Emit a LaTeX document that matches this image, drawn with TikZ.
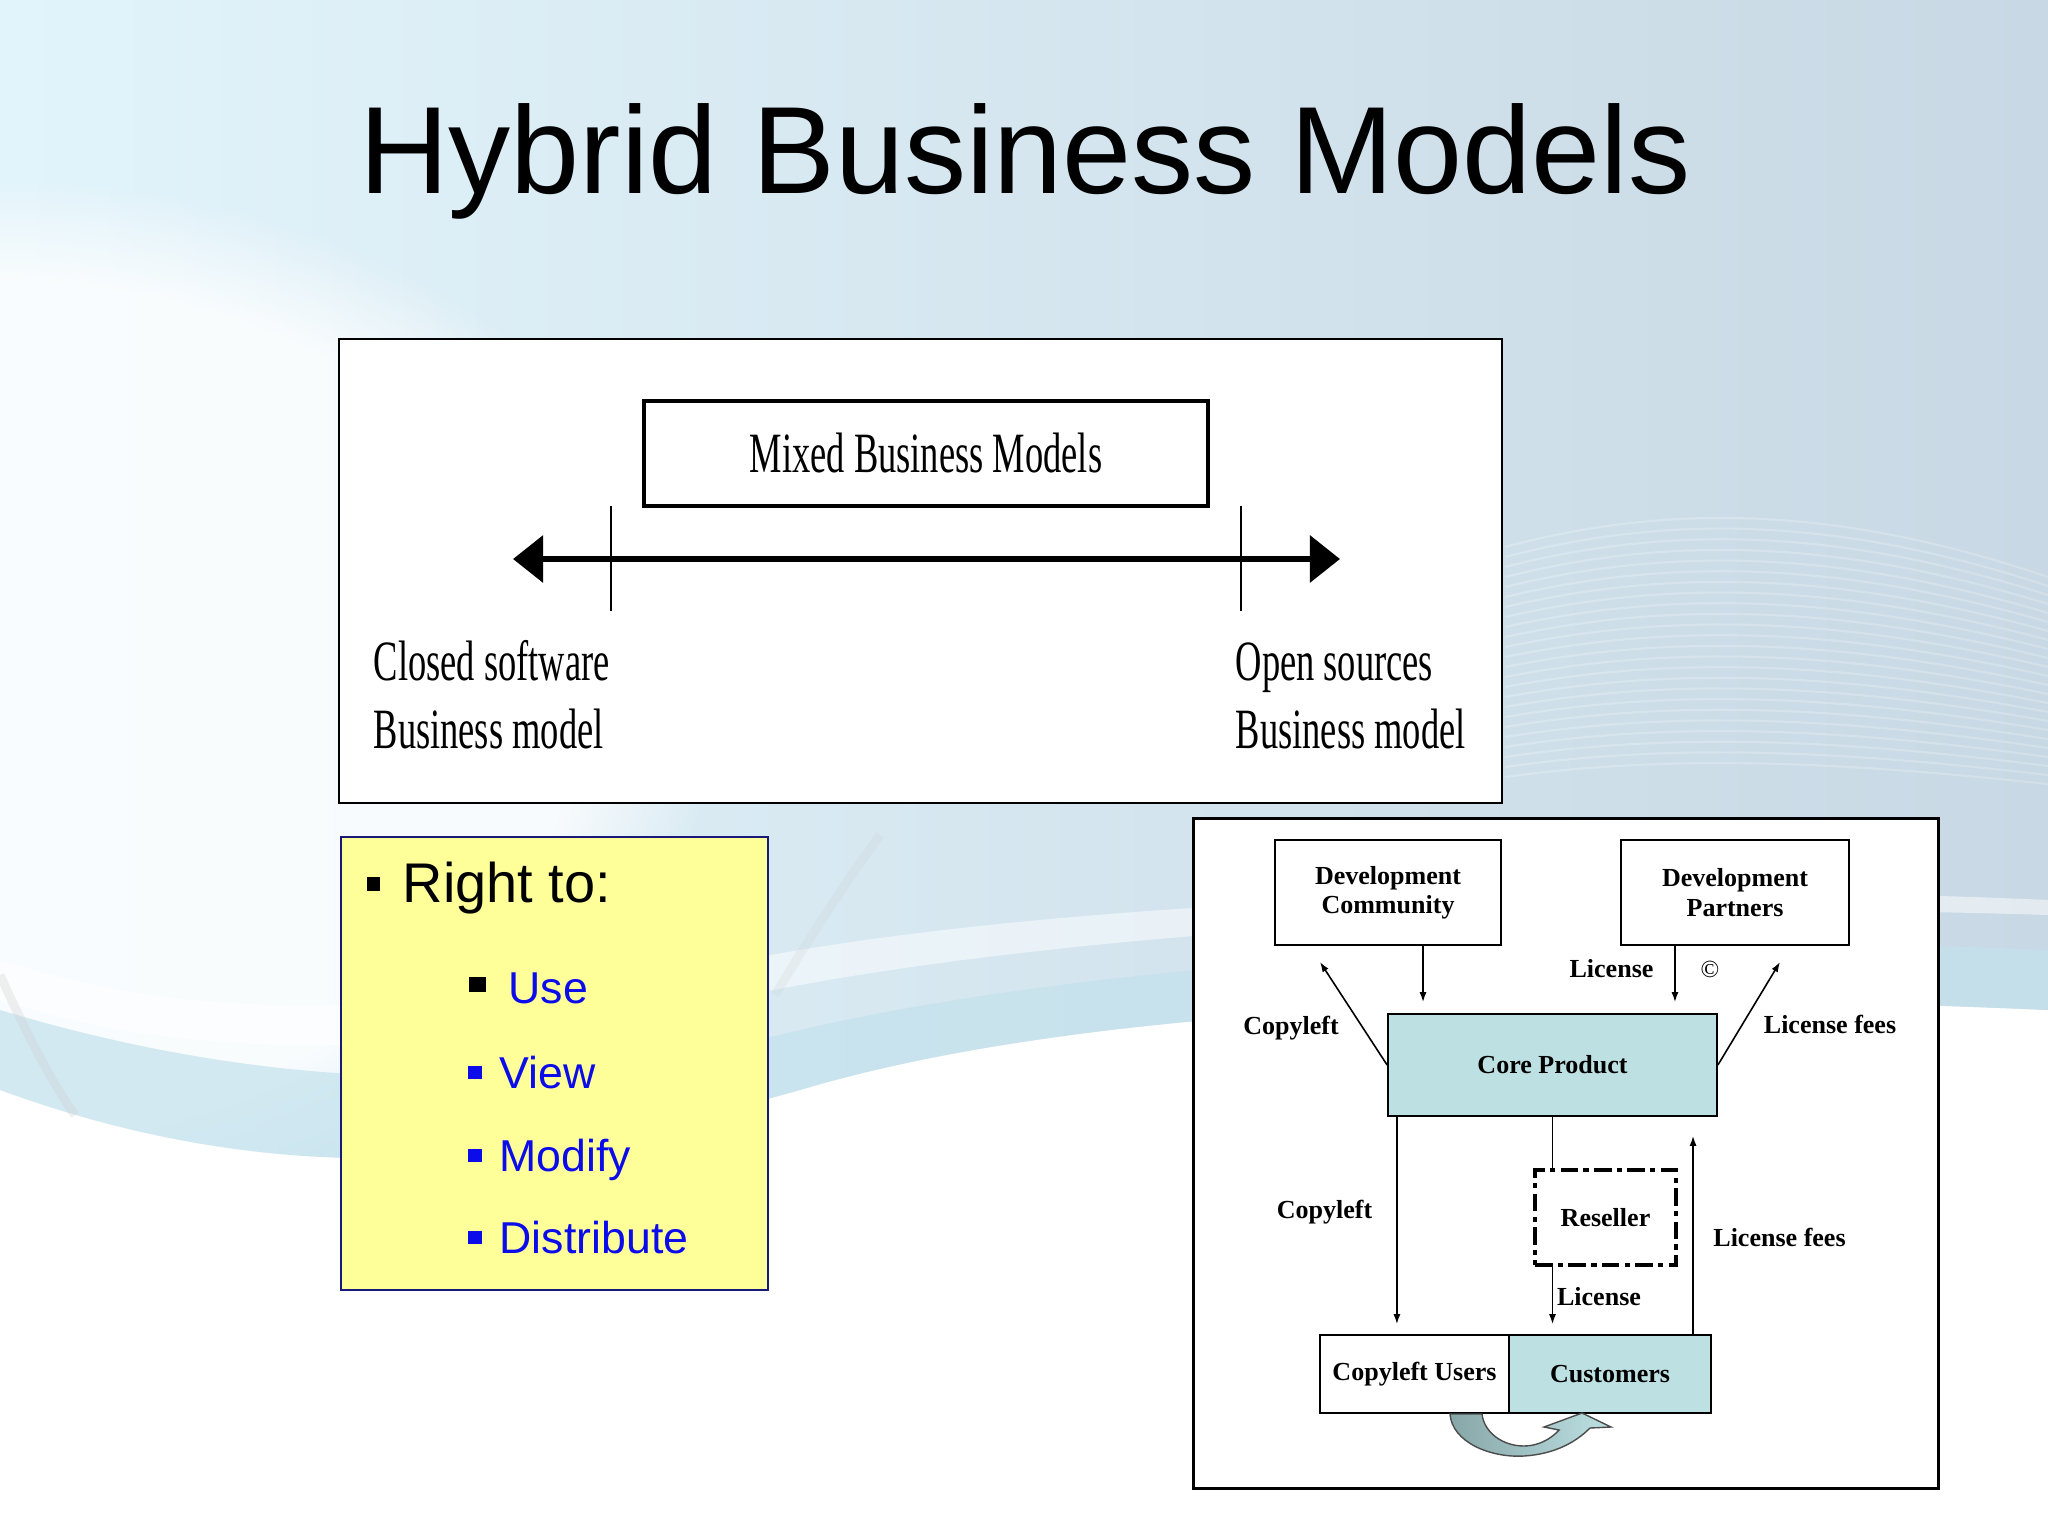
\documentclass[tikz,border=0pt]{standalone}
\usepackage{fontspec}
\setmainfont{Liberation Serif}
\newfontfamily\arialfont{Liberation Sans}
\newfontfamily\narrowfont[FakeStretch=0.64]{Liberation Serif}
\usetikzlibrary{arrows.meta,fadings}

\definecolor{bgleft}{RGB}{226,244,251}
\definecolor{bgright}{RGB}{200,216,228}
\definecolor{bandblue}{RGB}{196,226,237}
\definecolor{notefill}{RGB}{255,255,153}
\definecolor{noteline}{RGB}{25,25,120}
\definecolor{itemblue}{RGB}{12,12,235}
\definecolor{coreteal}{RGB}{189,225,227}
\definecolor{darkteal}{RGB}{135,166,168}

\newcommand{\diagfont}{\bfseries\fontsize{7.4}{8.3}\selectfont}

\begin{document}
\begin{tikzpicture}[x=0.01cm,y=-0.01cm,
    box/.style={draw,line width=0.45pt,fill=white,inner sep=0pt,align=center,font=\diagfont},
    lbl/.style={inner sep=0pt,font=\diagfont},
    sideline/.style={anchor=base west,inner sep=0pt,font=\narrowfont\fontsize{16.2}{19}\selectfont},
    item/.style={anchor=base west,inner sep=0pt,text=itemblue,font=\arialfont\fontsize{12.7}{15}\selectfont},
    flow/.style={line width=0.45pt,-{Latex[length=0.1cm,width=0.07cm]}}]

    % background
    \useasboundingbox (0,0) rectangle (2048,1536);
    \fill[white] (0,0) rectangle (2048,1536);
    \shade[left color=bgleft, right color=bgright]
        (0,0) -- (2048,0) -- (2048,1010) .. controls (1600,990) and (1100,1000) .. (800,1090)
        .. controls (550,1160) and (300,1200) .. (0,1090) -- cycle;
    \fill[white, fill opacity=0.8, path fading=circle with fuzzy edge 20 percent] (0,700) ellipse (720 and 520);
    \fill[bandblue, opacity=0.7]
        (0,1010) .. controls (300,1100) and (550,1090) .. (800,1030) .. controls (1100,960) and (1600,930) .. (2048,950)
        -- (2048,1010) .. controls (1600,990) and (1100,1000) .. (800,1090)
        .. controls (550,1160) and (300,1200) .. (0,1090) -- cycle;
    \fill[white, opacity=0.5]
        (0,960) .. controls (250,1040) and (500,1000) .. (800,950) .. controls (1100,900) and (1600,880) .. (2048,900)
        -- (2048,915) .. controls (1600,900) and (1100,930) .. (800,985)
        .. controls (500,1040) and (250,1080) .. (0,1000) -- cycle;
    \draw[black!20, opacity=0.3, line width=2.5pt] (0,975) .. controls (25,1030) and (50,1080) .. (75,1115);
    \draw[black!20, opacity=0.2, line width=2.5pt] (880,835) .. controls (840,890) and (805,945) .. (775,995);
    \foreach \k in {0,...,23}
        \draw[white, opacity=0.22, line width=0.6pt] (1505,547+\k*10) .. controls (1680,500+\k*11) and (1850,510+\k*11) .. (2048,577+\k*9);

    \node[font=\arialfont\fontsize{35.3}{40}\selectfont, anchor=base, inner sep=0pt] (title) at (1025,193) {Hybrid Business Models};

    % spectrum panel
    \node[draw, fill=white, line width=0.6pt, minimum width=11.63cm, minimum height=4.64cm, inner sep=0pt] (spectrum) at (920.5,571) {};
    \node[draw, line width=1.15pt, minimum width=5.64cm, minimum height=1.05cm, inner sep=0pt,
          font=\narrowfont\fontsize{16.2}{19}\selectfont] (mixed) at (926,453.5) {Mixed Business Models};
    \coordinate (closedend) at (513,559);
    \coordinate (openend) at (1340,559);
    \draw[line width=1.7pt, {Triangle[length=0.3cm,width=0.46cm]}-{Triangle[length=0.3cm,width=0.46cm]}] (closedend) -- (openend);
    \foreach \x in {611,1241}
        \draw[line width=0.5pt] (\x,506) -- (\x,611);
    \node[sideline] (closedA) at (373,680) {Closed software};
    \node[sideline] (closedB) at (373,748) {Business model};
    \node[sideline] (openA) at (1235,680) {Open sources};
    \node[sideline] (openB) at (1235,748) {Business model};

    % rights note
    \node[draw=noteline, fill=notefill, line width=0.6pt, minimum width=4.27cm, minimum height=4.53cm, inner sep=0pt] (rights) at (554.5,1063.5) {};
    \fill (367,877) rectangle (380,891);
    \node[anchor=base west, inner sep=0pt, font=\arialfont\fontsize{15.9}{18}\selectfont] (rightto) at (402,902) {Right to:};
    \fill (469,977) rectangle (486,992);
    \node[item] (use) at (508,1003) {Use};
    \foreach \y/\name/\txt in {1088/view/View, 1171/modify/Modify, 1253/distribute/Distribute} {
        \fill[itemblue] (468,\y-22) rectangle (482,\y-9);
        \node[item] (\name) at (499,\y) {\txt};
    }

    % model diagram
    \node[draw, fill=white, line width=0.8pt, minimum width=7.44cm, minimum height=6.69cm, inner sep=0pt] (model) at (1566,1153.5) {};
    \node[box, minimum width=2.26cm, minimum height=1.05cm] (devcomm) at (1388,892.5) {Development\\Community};
    \node[box, minimum width=2.28cm, minimum height=1.05cm] (devpart) at (1735,892.5) {Development\\Partners};
    \node[box, fill=coreteal, minimum width=3.29cm, minimum height=1.02cm] (core) at (1552.5,1065) {Core Product};
    \node[box, line width=0.9pt, dash pattern=on 5pt off 1.5pt on 1.5pt off 1.5pt, minimum width=1.41cm, minimum height=0.95cm] (reseller) at (1605.5,1217.5) {Reseller};
    \node[box, minimum width=1.89cm, minimum height=0.78cm] (copyusers) at (1414.5,1374) {Copyleft Users};
    \node[box, fill=coreteal, minimum width=2.02cm, minimum height=0.78cm] (customers) at (1610,1374) {Customers};

    \coordinate (commtip) at (1320,962);
    \coordinate (parttip) at (1780,962);
    \draw[flow, shorten >=0.11cm] ([xshift=0.35cm]devcomm.south) -- ([xshift=0.35cm]devcomm.south |- core.north);
    \draw[flow, shorten >=0.11cm] ([xshift=-0.6cm]devpart.south) -- ([xshift=-0.6cm]devpart.south |- core.north);
    \draw[flow] (core.west) -- (commtip);
    \draw[flow] (core.east) -- (parttip);
    \draw[flow, shorten >=0.1cm] ([xshift=-1.555cm]core.south) -- ([xshift=-1.555cm]core.south |- copyusers.north);
    \draw[line width=0.45pt] (core.south) -- (core.south |- reseller.north);
    \draw[flow, shorten >=0.1cm] (core.south |- reseller.south) -- (core.south |- customers.north);
    \draw[flow, shorten >=0.19cm] ([xshift=0.83cm]customers.north) -- ([xshift=0.83cm]customers.north |- core.south);

    \node[lbl] (licA) at (1611.5,969) {License};
    \node[lbl, font=\fontsize{7}{8}\selectfont] (copysign) at (1710,969) {\textcopyright};
    \node[lbl] (copyleftA) at (1291,1028) {Copyleft};
    \node[lbl] (feesA) at (1830,1024) {License fees};
    \node[lbl] (copyleftB) at (1324.5,1212) {Copyleft};
    \node[lbl] (feesB) at (1779.5,1237) {License fees};
    \node[lbl] (licB) at (1599,1297) {License};

    % switch arrow
    \draw[line width=0.4pt, draw=black!70, left color=darkteal, right color=coreteal]
        (1450,1414) .. controls (1452,1442) and (1490,1458) .. (1524,1456)
        .. controls (1555,1454) and (1576,1442) .. (1590,1428) -- (1611,1427) -- (1582,1413) -- (1544,1427) -- (1559,1430)
        .. controls (1550,1440) and (1537,1446) .. (1524,1446)
        .. controls (1502,1446) and (1484,1432) .. (1482,1414) -- cycle;
\end{tikzpicture}
\end{document}
